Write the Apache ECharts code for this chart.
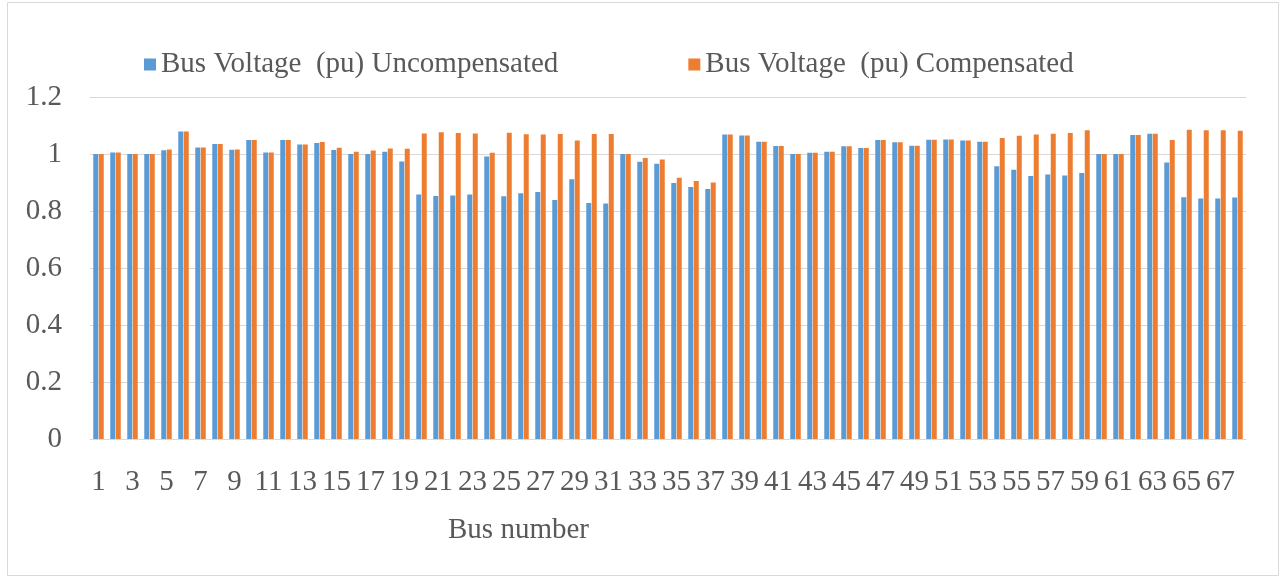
<!DOCTYPE html>
<html>
<head>
<meta charset="utf-8">
<script src="https://cdn.jsdelivr.net/npm/echarts@6/dist/echarts.min.js"></script>
<style>
  html, body { margin: 0; padding: 0; background: #fff; }
  #chart { width: 1281px; height: 579px; }
</style>
</head>
<body>
<div id="chart"></div>
<script>
// bus numbers 1..68
const buses = ['1','2','3','4','5','6','7','8','9','10','11','12','13','14','15','16','17','18','19','20',
  '21','22','23','24','25','26','27','28','29','30','31','32','33','34','35','36','37','38','39','40',
  '41','42','43','44','45','46','47','48','49','50','51','52','53','54','55','56','57','58','59','60',
  '61','62','63','64','65','66','67','68']

const uncompensated = [1.000, 1.005, 1.000, 1.000, 1.013, 1.079, 1.023, 1.035, 1.015, 1.049,
  1.005, 1.049, 1.033, 1.039, 1.014, 1.000, 1.000, 1.008, 0.974, 0.858,
  0.853, 0.854, 0.858, 0.991, 0.852, 0.862, 0.867, 0.839, 0.911, 0.828,
  0.826, 1.000, 0.973, 0.966, 0.898, 0.884, 0.877, 1.068, 1.065, 1.043,
  1.028, 1.000, 1.004, 1.008, 1.027, 1.021, 1.049, 1.041, 1.029, 1.050,
  1.051, 1.047, 1.043, 0.957, 0.945, 0.923, 0.928, 0.925, 0.933, 1.000,
  1.000, 1.067, 1.071, 0.970, 0.848, 0.844, 0.844, 0.847]

const compensated = [1.000, 1.005, 1.000, 1.000, 1.016, 1.079, 1.023, 1.035, 1.016, 1.049,
  1.005, 1.049, 1.033, 1.042, 1.022, 1.008, 1.012, 1.019, 1.018, 1.072,
  1.076, 1.074, 1.072, 1.004, 1.075, 1.069, 1.068, 1.070, 1.047, 1.070,
  1.070, 1.000, 0.986, 0.981, 0.917, 0.905, 0.900, 1.068, 1.065, 1.043,
  1.028, 1.000, 1.004, 1.008, 1.027, 1.021, 1.049, 1.041, 1.029, 1.050,
  1.051, 1.047, 1.043, 1.056, 1.064, 1.068, 1.071, 1.074, 1.083, 1.000,
  1.000, 1.067, 1.071, 1.049, 1.085, 1.083, 1.083, 1.082]

const font = "'Liberation Serif', 'Times New Roman', serif"
const textColor = '#595959'

const chart = echarts.init(document.getElementById('chart'))
chart.setOption({
  animation: false,
  textStyle: { fontFamily: font },
  grid: { left: 90, right: 35, top: 97, bottom: 140 },
  legend: {
    left: 139,
    top: 45,
    itemWidth: 12,
    itemHeight: 12,
    itemGap: 130,
    icon: 'rect',
    textStyle: { fontFamily: font, fontSize: 29, color: textColor }
  },
  title: {
    text: 'Bus number',
    left: 443,
    top: 511,
    textStyle: { fontFamily: font, fontSize: 29, fontWeight: 'normal', color: textColor }
  },
  graphic: [{
    type: 'rect',
    shape: { x: 7.5, y: 2.5, width: 1271, height: 573 },
    style: { fill: 'none', stroke: '#d9d9d9', lineWidth: 1 }
  }],
  xAxis: {
    type: 'category',
    data: buses,
    axisLine: { lineStyle: { color: '#d9d9d9', width: 1 } },
    axisTick: { show: false },
    axisLabel: { interval: 1, margin: 29, fontSize: 29, color: textColor, fontFamily: font }
  },
  yAxis: {
    type: 'value',
    min: 0,
    max: 1.2,
    interval: 0.2,
    axisLine: { show: false },
    axisTick: { show: false },
    splitLine: { lineStyle: { color: '#d9d9d9', width: 1 } },
    axisLabel: { margin: 28, fontSize: 29, color: textColor, fontFamily: font }
  },
  series: [
    {
      name: 'Bus Voltage  (pu) Uncompensated',
      type: 'bar',
      data: uncompensated,
      barWidth: 5,
      barGap: '10%',
      itemStyle: { color: '#5b9bd5' }
    },
    {
      name: 'Bus Voltage  (pu) Compensated',
      type: 'bar',
      data: compensated,
      barWidth: 5,
      itemStyle: { color: '#ed7d31' }
    }
  ]
})
</script>
</body>
</html>
